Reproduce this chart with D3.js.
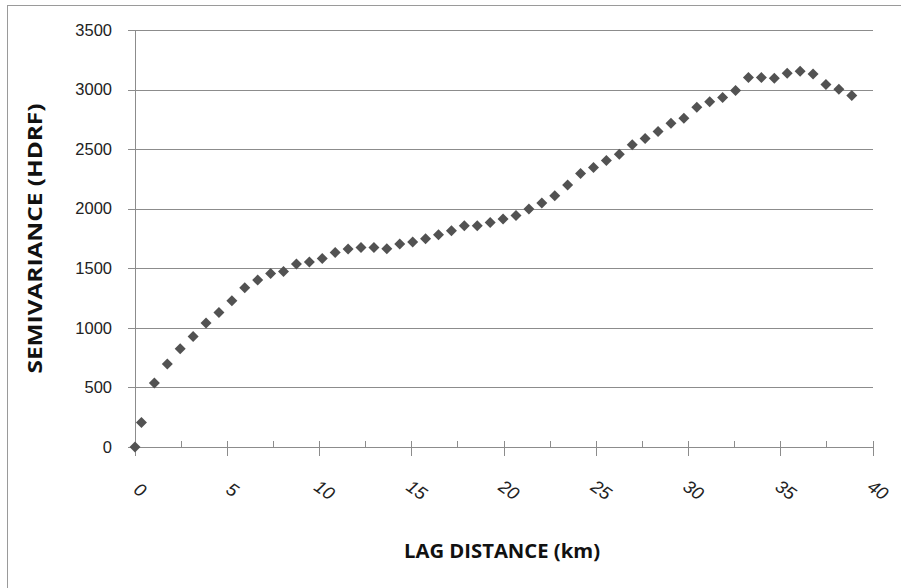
<!DOCTYPE html>
<html>
<head>
<meta charset="utf-8">
<script src="https://cdn.jsdelivr.net/npm/d3@7"></script>
<style>
  html, body { margin: 0; padding: 0; background: #fff; }
  svg { display: block; }
</style>
</head>
<body>
<div id="chart"></div>
<script>
// ---- data ----
const lagKm = [0, 0.35, 1.05, 1.75, 2.45, 3.15, 3.85, 4.55, 5.25, 5.95, 6.65, 7.35, 8.05, 8.75, 9.45,
  10.15, 10.85, 11.55, 12.25, 12.95, 13.65, 14.35, 15.05, 15.75, 16.45, 17.15, 17.85, 18.55, 19.25,
  19.95, 20.65, 21.35, 22.05, 22.75, 23.45, 24.15, 24.85, 25.55, 26.25, 26.95, 27.65, 28.35, 29.05,
  29.75, 30.45, 31.15, 31.85, 32.55, 33.25, 33.95, 34.65, 35.35, 36.05, 36.75, 37.45, 38.15, 38.85];
const semivariance = [0, 206, 537, 696, 825, 928, 1040, 1129, 1227, 1336, 1401, 1457, 1473, 1535, 1552,
  1582, 1633, 1661, 1675, 1675, 1664, 1703, 1720, 1748, 1781, 1815, 1857, 1857, 1885,
  1913, 1942, 1997, 2047, 2108, 2200, 2295, 2346, 2404, 2458, 2536, 2589, 2648, 2718,
  2760, 2852, 2898, 2933, 2992, 3101, 3101, 3095, 3137, 3154, 3131, 3042, 3003, 2950];
const xTickLabels = [0, 5, 10, 15, 20, 25, 30, 35, 40];
const xMinorTicks = [2.5, 7.5, 12.5, 17.5, 22.5, 27.5, 32.5, 37.5];
const yTickLabels = [0, 500, 1000, 1500, 2000, 2500, 3000, 3500];
const xTitle = "LAG DISTANCE (km)";
const yTitle = "SEMIVARIANCE (HDRF)";

const W = 901, H = 588;
const plot = { left: 135, right: 873, top: 30, bottom: 447 };

const svg = d3.select("#chart").append("svg").attr("width", W).attr("height", H);

// outer border
svg.append("rect").attr("x", 7.5).attr("y", 5.5).attr("width", 900).attr("height", 600)
  .attr("fill", "none").attr("stroke", "#9a9a9a").attr("stroke-width", 1);

const x = d3.scaleLinear().domain([0, 40]).range([plot.left, plot.right]);
const y = d3.scaleLinear().domain([0, 3500]).range([plot.bottom, plot.top]);

const gridColor = "#8c8c8c";

// horizontal gridlines + y ticks
const yAxis = d3.axisLeft(y).tickValues(yTickLabels).tickSize(-(plot.right - plot.left)).tickSizeOuter(0).tickPadding(16)
  .tickFormat(d3.format("d"));
const gy = svg.append("g").attr("transform", `translate(${plot.left},0)`).call(yAxis);
gy.select(".domain").remove();
gy.selectAll(".tick line").attr("stroke", gridColor).attr("x1", -7).attr("shape-rendering", "crispEdges");
gy.selectAll(".tick text").attr("font-family", "'Liberation Sans', Arial, sans-serif").attr("font-size", 16.5)
  .attr("fill", "#222").attr("x", -23);

// y axis line
svg.append("line").attr("x1", plot.left).attr("x2", plot.left).attr("y1", y(3500)).attr("y2", y(0))
  .attr("stroke", gridColor).attr("shape-rendering", "crispEdges");

// x axis line
svg.append("line").attr("x1", x(0)).attr("x2", x(40)).attr("y1", y(0)).attr("y2", y(0))
  .attr("stroke", gridColor).attr("shape-rendering", "crispEdges");

// x major ticks (cross the axis)
svg.append("g").selectAll("line").data(xTickLabels).join("line")
  .attr("x1", d => x(d)).attr("x2", d => x(d)).attr("y1", y(0) - 6).attr("y2", y(0) + 9)
  .attr("stroke", gridColor).attr("shape-rendering", "crispEdges");
// x minor ticks (inside)
svg.append("g").selectAll("line").data(xMinorTicks).join("line")
  .attr("x1", d => x(d)).attr("x2", d => x(d)).attr("y1", y(0) - 6).attr("y2", y(0))
  .attr("stroke", gridColor).attr("shape-rendering", "crispEdges");

// x tick labels, rotated
svg.append("g").selectAll("text").data(xTickLabels).join("text")
  .attr("transform", d => `translate(${x(d) + 5},${y(0) + 43}) rotate(35)`)
  .attr("text-anchor", "middle").attr("dominant-baseline", "central")
  .attr("font-family", "'Liberation Sans', Arial, sans-serif").attr("font-size", 18)
  .attr("font-style", "italic").attr("fill", "#222")
  .text(d => d);

// points (diamonds)
const pts = lagKm.map((d, i) => ({ x: d, y: semivariance[i] }));
const r = 5.5;
svg.append("g").selectAll("path").data(pts).join("path")
  .attr("d", d => {
    const cx = x(d.x), cy = y(d.y);
    return `M${cx},${cy - r}L${cx + r},${cy}L${cx},${cy + r}L${cx - r},${cy}Z`;
  })
  .attr("fill", "#525252");

// axis titles
svg.append("text").attr("x", (plot.left + plot.right) / 2 - 2).attr("y", 558)
  .attr("text-anchor", "middle").attr("font-family", "'Open Sans', sans-serif")
  .attr("font-weight", "bold").attr("font-size", 20).attr("fill", "#111")
  .attr("textLength", 196).attr("lengthAdjust", "spacingAndGlyphs")
  .text(xTitle);

svg.append("text").attr("transform", `translate(42,${(plot.top + plot.bottom) / 2}) rotate(-90)`)
  .attr("text-anchor", "middle").attr("font-family", "'Open Sans', sans-serif")
  .attr("font-weight", "bold").attr("font-size", 20).attr("fill", "#111")
  .attr("textLength", 270).attr("lengthAdjust", "spacingAndGlyphs")
  .text(yTitle);
</script>
</body>
</html>
